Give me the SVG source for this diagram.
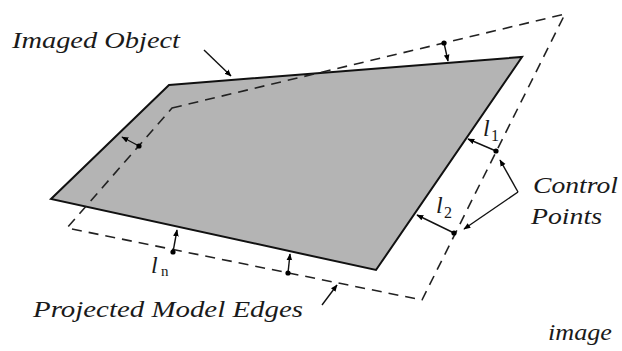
<svg xmlns="http://www.w3.org/2000/svg" width="622" height="351" viewBox="0 0 622 351">
<defs>
<marker id="ah" viewBox="0 0 10 10" refX="9" refY="5" markerWidth="7" markerHeight="7" markerUnits="userSpaceOnUse" orient="auto">
<path d="M0,1 L10,5 L0,9 Z" fill="#000"/>
</marker>
<style>
.lbl{font-family:"Liberation Serif","DejaVu Serif",serif;font-style:italic;fill:#1a1a1a;}
.sub{font-family:"Liberation Serif","DejaVu Serif",serif;fill:#1a1a1a;}
.arr{stroke:#111;stroke-width:1.4;fill:none;marker-end:url(#ah);}
.pt{fill:#000;}
</style>
</defs>
<rect width="622" height="351" fill="#fff"/>
<g id="imaged-object">
<polygon points="169,85 522,57 376,270 51,199" fill="#b4b4b4" stroke="#111" stroke-width="2" stroke-linejoin="miter"/>
</g>
<g id="projected-model">
<polygon points="172,108 565,14 422,300 67,228" fill="none" stroke="#222" stroke-width="1.6" stroke-dasharray="10,7" stroke-linejoin="round"/>
</g>
<g id="connectors">
<line class="arr" x1="444" y1="43" x2="448" y2="61"/>
<line class="arr" x1="139" y1="146" x2="122" y2="137"/>
<line class="arr" x1="496" y1="151" x2="468" y2="139"/>
<line class="arr" x1="454" y1="233" x2="417" y2="215"/>
<line class="arr" x1="173" y1="252" x2="177" y2="230"/>
<line class="arr" x1="288" y1="273" x2="290" y2="254"/>
<line class="arr" x1="204" y1="50" x2="231" y2="76"/>
<line class="arr" x1="322" y1="305" x2="337" y2="285"/>
<line class="arr" x1="518" y1="192" x2="500" y2="160"/>
<line class="arr" x1="518" y1="192" x2="464" y2="229"/>
</g>
<g id="control-points">
<circle class="pt" cx="444" cy="43" r="2.6"/>
<circle class="pt" cx="139" cy="146" r="2.6"/>
<circle class="pt" cx="496" cy="151" r="2.6"/>
<circle class="pt" cx="454" cy="233" r="2.6"/>
<circle class="pt" cx="173" cy="252" r="2.6"/>
<circle class="pt" cx="288" cy="273" r="2.6"/>
</g>
<g id="labels">
<text class="lbl" x="12" y="48" font-size="24" textLength="168" lengthAdjust="spacingAndGlyphs">Imaged Object</text>
<text class="lbl" x="33" y="317" font-size="24" textLength="270" lengthAdjust="spacingAndGlyphs">Projected Model Edges</text>
<text class="lbl" x="533" y="193" font-size="24" textLength="85" lengthAdjust="spacingAndGlyphs">Control</text>
<text class="lbl" x="531" y="224" font-size="24" textLength="71" lengthAdjust="spacingAndGlyphs">Points</text>
<text class="lbl" x="548" y="340" font-size="24" textLength="64" lengthAdjust="spacingAndGlyphs">image</text>
<text class="lbl" x="483" y="136" font-size="24">l</text><text class="sub" x="491" y="141" font-size="16">1</text>
<text class="lbl" x="436" y="213" font-size="24">l</text><text class="sub" x="444" y="218" font-size="16">2</text>
<text class="lbl" x="151" y="273" font-size="24">l</text><text class="sub" x="161" y="276" font-size="15">n</text>
</g>
</svg>
